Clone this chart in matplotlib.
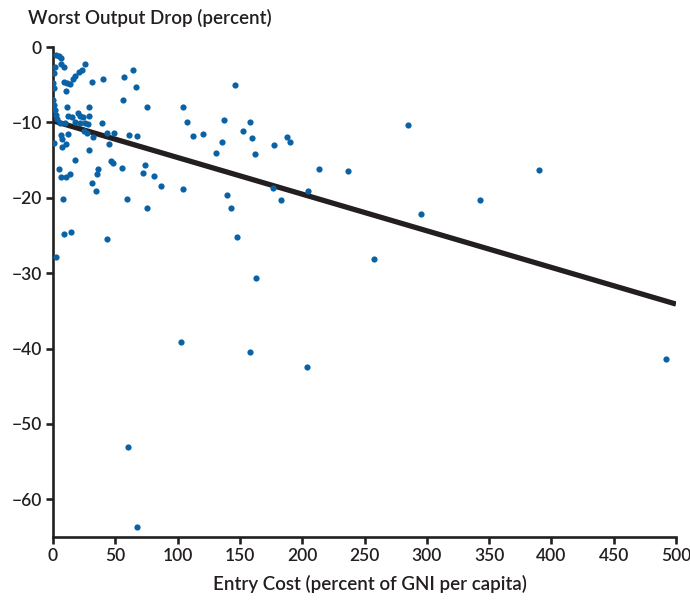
import numpy as np
import matplotlib
matplotlib.use("Agg")
from matplotlib import pyplot as plt

# entry cost (percent of GNI per capita) vs worst output drop (percent)
entry_cost = [
    2.4, 5.1, 6.2, 1.6, 6.2, 9.1, 0.8, 25.7, 23.5, 21.1,
    17.7, 16.3, 8.8, 11.5, 13.6, 10.4, 31.5, 39.9, 64.0, 57.2,
    66.4, 56.4, 75.2, 0.2, 0.8, 0.2, 0.8, 1.6, 2.4, 3.5,
    11.0, 12.3, 15.0, 19.8, 21.7, 24.3, 28.9, 29.1, 17.7, 21.7,
    25.7, 27.8, 39.6, 5.6, 9.6, 6.2, 7.5, 12.3, 7.0, 10.4,
    0.8, 24.9, 27.0, 32.3, 43.1, 49.2, 61.2, 67.2, 44.9, 29.1,
    17.7, 46.5, 48.4, 55.1, 73.8, 72.0, 81.3, 86.4, 36.4, 35.1,
    31.1, 34.5, 5.1, 6.2, 10.4, 13.6, 7.8, 59.1, 75.7, 104.6,
    107.3, 112.6, 120.6, 137.5, 146.1, 158.1, 152.7, 160.0, 135.4, 130.6,
    162.4, 177.1, 188.0, 190.2, 104.1, 139.9, 142.6, 176.3, 183.0, 213.7,
    236.5, 204.7, 285.2, 295.6, 342.9, 390.3, 162.9, 103.0, 157.9, 203.6,
    60.0, 67.7, 258.0, 492.0, 9.1, 14.2, 2.2, 43.5, 147.7,
]
output_drop = [
    -1.1, -1.2, -1.4, -2.6, -2.3, -2.7, -3.4, -2.3, -3.1, -3.3,
    -3.8, -4.3, -4.6, -4.8, -4.9, -5.9, -4.7, -4.2, -3.1, -4.0,
    -5.3, -7.0, -7.9, -4.8, -5.5, -7.0, -7.7, -8.4, -9.0, -9.6,
    -7.9, -9.2, -9.3, -8.8, -9.2, -9.3, -7.9, -9.2, -9.9, -10.1,
    -10.1, -10.2, -10.1, -10.1, -10.1, -11.7, -12.2, -11.6, -13.2, -12.9,
    -12.8, -11.2, -11.4, -12.0, -11.4, -11.4, -11.7, -11.8, -12.9, -13.7,
    -15.0, -15.1, -15.4, -16.0, -15.6, -16.7, -17.1, -18.4, -16.2, -16.8,
    -18.0, -19.1, -16.2, -17.3, -17.2, -16.8, -20.2, -20.2, -21.4, -7.9,
    -10.0, -11.8, -11.6, -9.7, -5.1, -10.0, -11.1, -12.1, -12.6, -14.1,
    -14.2, -13.0, -11.9, -12.6, -18.8, -19.6, -21.3, -18.7, -20.3, -16.2,
    -16.4, -19.1, -10.3, -22.1, -20.3, -16.3, -30.6, -39.1, -40.5, -42.4,
    -53.1, -63.7, -28.1, -41.4, -24.8, -24.6, -27.8, -25.5, -25.2,
]

# fitted line
fit_intercept = -9.8
fit_slope = -0.0486
fit_x = np.array([0, 500])

label_font = "Lato"

fig = plt.figure(figsize=(6.9, 6.03), dpi=100)
ax = fig.add_axes([53 / 690, 1 - 537 / 603, 623 / 690, 490 / 603])

ax.scatter(entry_cost, output_drop, s=20, color="#0a62a6", linewidths=0, zorder=3)
ax.plot(fit_x, fit_intercept + fit_slope * fit_x, color="#231f20", lw=3.8,
        solid_capstyle="butt", zorder=2)

ax.set_xlim(0, 500)
ax.set_ylim(-65, 0)
ax.set_xticks(range(0, 501, 50))
ax.set_yticks(range(-60, 1, 10))
ax.set_yticklabels(["\u2212%d" % -v if v < 0 else "0" for v in range(-60, 1, 10)])

for side in ["top", "right"]:
    ax.spines[side].set_visible(False)
for side in ["left", "bottom"]:
    ax.spines[side].set_linewidth(1.9)
    ax.spines[side].set_color("#231f20")
    ax.spines[side].set_capstyle("projecting")

ax.tick_params(direction="out", length=5, width=1.9, color="#231f20",
               labelsize=12.5, labelcolor="#231f20", pad=3)
for lab in ax.get_xticklabels() + ax.get_yticklabels():
    lab.set_family(label_font)
    lab.set_weight("semibold")

fig.text(28 / 690, 1 - 18 / 603, "Worst Output Drop (percent)", fontsize=13.5,
         family=label_font, weight="semibold", color="#231f20",
         va="center", ha="left")
fig.text(370 / 690, 1 - 584 / 603, "Entry Cost (percent of GNI per capita)",
         fontsize=13.5, family=label_font, weight="semibold", color="#231f20",
         va="center", ha="center")

fig.savefig("out.png", dpi=100)
